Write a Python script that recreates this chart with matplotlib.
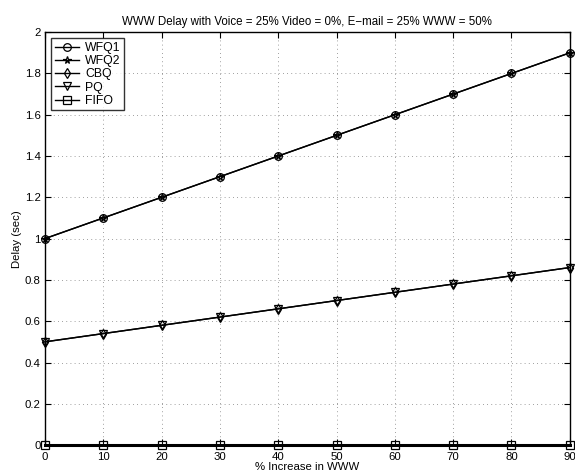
import numpy as np
import matplotlib
matplotlib.use('Agg')
import matplotlib.pyplot as plt

plt.rcParams['font.family'] = ['Liberation Sans', 'DejaVu Sans']

increase = [0, 10, 20, 30, 40, 50, 60, 70, 80, 90]
wfq1 = [1.0, 1.1, 1.2, 1.3, 1.4, 1.5, 1.6, 1.7, 1.8, 1.9]
wfq2 = [1.0, 1.1, 1.2, 1.3, 1.4, 1.5, 1.6, 1.7, 1.8, 1.9]
cbq = [0.50, 0.54, 0.58, 0.62, 0.66, 0.70, 0.74, 0.78, 0.82, 0.86]
pq = [0.50, 0.54, 0.58, 0.62, 0.66, 0.70, 0.74, 0.78, 0.82, 0.86]
fifo = [0, 0, 0, 0, 0, 0, 0, 0, 0, 0]

fig = plt.figure(figsize=(5.75, 4.73), dpi=100)
ax = fig.add_axes([0.078, 0.059, 0.913, 0.873])

mk = dict(color='k', lw=1.0, ms=5.5, mfc='none', mec='k', mew=0.9, clip_on=False)
ax.plot(increase, wfq1, marker='o', label='WFQ1', **mk)
ax.plot(increase, wfq2, marker='*', label='WFQ2', **mk)
ax.plot(increase, cbq, marker='d', label='CBQ', **mk)
ax.plot(increase, pq, marker='v', label='PQ', **mk)
ax.plot(increase, fifo, marker='s', label='FIFO', **mk)
# heavier baseline under the FIFO series
ax.axhline(0, color='k', lw=2.2, zorder=1, clip_on=False)

ax.set_xlim(0, 90)
ax.set_ylim(0, 2)
ax.set_xticks(np.arange(0, 91, 10))
yt = np.round(np.arange(0, 2.01, 0.2), 1)
ax.set_yticks(yt)
ax.set_yticklabels([f'{v:g}' for v in yt])
ax.tick_params(direction='in', top=True, right=True, labelsize=8.2, length=4)
ax.tick_params(axis='x', pad=5)
ax.tick_params(axis='y', pad=3)
ax.grid(True, ls=(0, (1, 4)), color='k', lw=0.6, alpha=0.5)
for s in ax.spines.values():
    s.set_linewidth(1.0)

ax.set_title('WWW Delay with Voice = 25% Video = 0%, E\u2212mail = 25% WWW = 50%', fontsize=8.3, pad=5)
ax.set_xlabel('% Increase in WWW', fontsize=8.2, labelpad=0)
ax.set_ylabel('Delay (sec)', fontsize=8.2, labelpad=2)

leg = ax.legend(loc='upper left', fontsize=8.8, frameon=True, fancybox=False,
                edgecolor='k', borderpad=0.3, labelspacing=0.1, handlelength=2.0,
                handletextpad=0.5, borderaxespad=0.5)
leg.get_frame().set_linewidth(1.0)

fig.savefig('out.png', dpi=100)
